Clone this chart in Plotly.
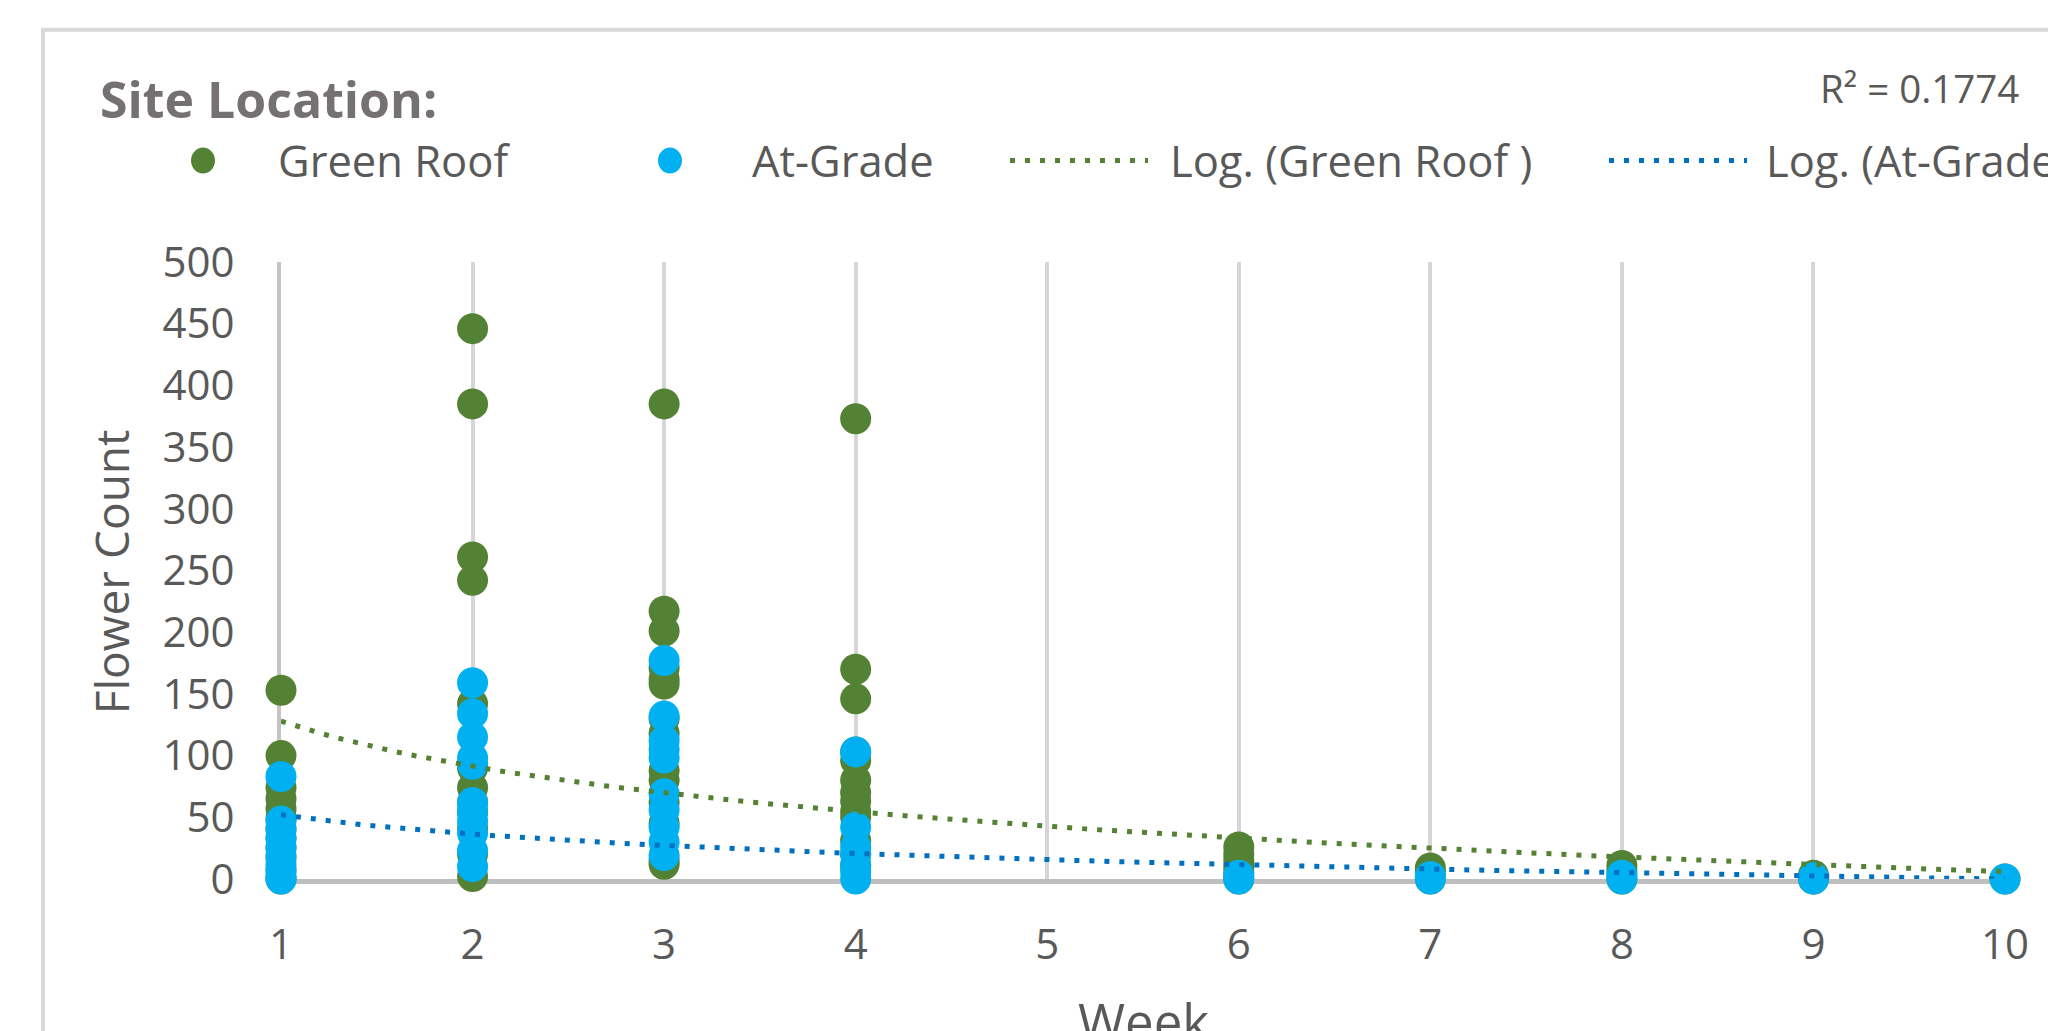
import math
import plotly.graph_objects as go

# ---------------- data ----------------
green_weeks = ([1] * 12 + [2] * 12 + [3] * 14 + [4] * 13 +
               [6] * 6 + [7] * 3 + [8] * 3 + [9] * 2 + [10])
green_counts = [153, 100, 74, 65, 57, 49, 41, 33, 25, 17, 8, 0,
                446, 385, 261, 242, 142, 90, 74, 62, 54, 41, 20, 2,
                385, 217, 201, 171, 162, 158, 130, 118, 88, 80, 62, 45, 15, 12,
                373, 170, 146, 103, 96, 80, 70, 63, 55, 50, 31, 20, 10,
                26, 20, 15, 10, 5, 0,
                9, 5, 0,
                11, 6, 0,
                3, 0,
                0]

blue_weeks = ([1] * 10 + [2] * 11 + [3] * 10 + [4] * 7 +
              [6] * 2 + [7] * 2 + [8] * 2 + [9] * 2 + [10])
blue_counts = [83, 47, 40, 33, 26, 19, 12, 6, 2, 0,
               159, 134, 115, 98, 93, 62, 55, 47, 37, 23, 10,
               177, 132, 112, 105, 98, 69, 56, 42, 30, 19,
               103, 42, 26, 20, 12, 6, 0,
               3, 0,
               2, 0,
               3, 0,
               1, 0,
               0]

# logarithmic trendline coefficients y = a*ln(x) + b
trend_green = {"a": -53.0, "b": 128.0}
trend_blue = {"a": -22.6, "b": 52.0}
trend_x = [1 + i * 0.1 for i in range(91)]

x_ticks = list(range(1, 11))
y_ticks = list(range(0, 501, 50))
r2_text = "R² = 0.1774"

green_trend_y = [trend_green["a"] * math.log(x) + trend_green["b"] for x in trend_x]
blue_trend_y = [trend_blue["a"] * math.log(x) + trend_blue["b"] for x in trend_x]

# ---------------- styling ----------------
OFF = 8                      # page body margin: figure starts at (8, 8)
W, H = 2056 - OFF, 1031 - OFF
L, R, T, B = 281 - OFF, 2005 - OFF, 261.5 - OFF, 879 - OFF
FONT = "Open Sans"
TXT = "#595959"
GREEN = "#548235"
BLUE = "#00B0F0"
BLUE_LINE = "#0070C0"
DOT = "5px,10px"


def px_x(p):  # p in page pixels
    return (p - OFF - L) / (R - L)


def px_y(p):
    return (B - (p - OFF)) / (B - T)


fig = go.Figure()
fig.add_trace(go.Scatter(x=green_weeks, y=green_counts, mode="markers",
                         marker=dict(color=GREEN, size=31, line=dict(width=0)),
                         cliponaxis=False, showlegend=False, name="Green Roof"))
fig.add_trace(go.Scatter(x=blue_weeks, y=blue_counts, mode="markers",
                         marker=dict(color=BLUE, size=31, line=dict(width=0)),
                         cliponaxis=False, showlegend=False, name="At-Grade"))
fig.add_trace(go.Scatter(x=trend_x, y=green_trend_y, mode="lines",
                         line=dict(color=GREEN, width=5, dash=DOT),
                         cliponaxis=False, showlegend=False, name="Log. (Green Roof )"))
fig.add_trace(go.Scatter(x=trend_x, y=blue_trend_y, mode="lines",
                         line=dict(color=BLUE_LINE, width=5, dash=DOT),
                         cliponaxis=False, showlegend=False, name="Log. (At-Grade )"))

annotations = []


def text(s, x, y, size, anchor="left", bold=False, color=TXT, angle=0):
    annotations.append(dict(
        text=f"<b>{s}</b>" if bold else s, xref="paper", yref="paper",
        x=px_x(x), y=px_y(y), xanchor=anchor, yanchor="middle",
        showarrow=False, textangle=angle,
        font=dict(family=FONT, size=size, color=color)))


text("Site Location:", 98, 98, 50, bold=True, color="#767171")
text("Green Roof", 276, 160, 43.5)
text("At-Grade", 750, 160, 43.5)
text("Log. (Green Roof )", 1168, 160, 43.5)
text("Log. (At-Grade )", 1764, 160, 43.5)
text(r2_text, 1818, 87, 38.5)
text("Flower Count", 111, 572, 46, anchor="center", angle=-90)
text("Week", 1143, 1021, 51, anchor="center")

shapes = [
    # chart-area border (continues past the cropped edges)
    dict(type="rect", xref="paper", yref="paper",
         x0=px_x(43), x1=px_x(2200), y0=px_y(29), y1=px_y(1200),
         line=dict(color="#d9d9d9", width=4), fillcolor="rgba(0,0,0,0)", layer="below"),
    # legend symbols
    dict(type="circle", xref="paper", yref="paper", xsizemode="pixel", ysizemode="pixel",
         xanchor=px_x(203), yanchor=px_y(160), x0=-12, x1=12, y0=-13, y1=13,
         fillcolor=GREEN, line=dict(width=0)),
    dict(type="circle", xref="paper", yref="paper", xsizemode="pixel", ysizemode="pixel",
         xanchor=px_x(670), yanchor=px_y(160), x0=-12, x1=12, y0=-13, y1=13,
         fillcolor=BLUE, line=dict(width=0)),
    dict(type="line", xref="paper", yref="paper",
         x0=px_x(1010), x1=px_x(1148), y0=px_y(160), y1=px_y(160),
         line=dict(color=GREEN, width=5, dash=DOT)),
    dict(type="line", xref="paper", yref="paper",
         x0=px_x(1609), x1=px_x(1747), y0=px_y(160), y1=px_y(160),
         line=dict(color=BLUE_LINE, width=5, dash=DOT)),
]

fig.update_layout(
    width=W, height=H,
    margin=dict(l=L, r=W - R, t=T, b=H - B, pad=0),
    paper_bgcolor="white", plot_bgcolor="white",
    font=dict(family=FONT, color=TXT),
    annotations=annotations, shapes=shapes,
    showlegend=False,
)
fig.update_xaxes(range=[1, 10], tickvals=x_ticks, ticktext=[str(v) for v in x_ticks],
                 showgrid=True, gridcolor="#d6d6d6", gridwidth=4,
                 zeroline=False, showline=True, linecolor="#bfbfbf", linewidth=5,
                 ticks="", ticklabelstandoff=25, layer="below traces",
                 tickfont=dict(family=FONT, size=42, color=TXT))
fig.update_yaxes(range=[0, 500], tickvals=y_ticks,
                 showgrid=False, zeroline=False, showline=True,
                 linecolor="#c4c4c4", linewidth=4,
                 ticks="", ticklabelstandoff=34, layer="below traces",
                 tickfont=dict(family=FONT, size=42, color=TXT))

fig.write_html("out.html")
